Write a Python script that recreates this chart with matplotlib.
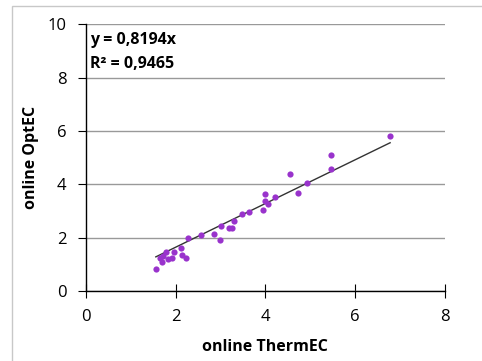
import numpy as np
import matplotlib.pyplot as plt
from matplotlib.patches import Rectangle

# data
therm = [1.56, 1.65, 1.69, 1.72, 1.78, 1.83, 1.91, 1.96, 2.13, 2.15, 2.24, 2.28,
         2.56, 2.85, 2.99, 3.02, 3.18, 3.25, 3.30, 3.47, 3.64, 3.95, 4.00, 4.00,
         4.07, 4.21, 4.55, 4.72, 4.92, 5.46, 5.46, 6.78]
opt = [0.81, 1.22, 1.10, 1.30, 1.47, 1.19, 1.25, 1.47, 1.62, 1.34, 1.25, 2.00,
       2.10, 2.15, 1.91, 2.42, 2.37, 2.37, 2.62, 2.87, 2.95, 3.05, 3.64, 3.37,
       3.27, 3.54, 4.40, 3.67, 4.06, 5.11, 4.57, 5.82]
slope = 0.8194
r2 = 0.9465

plt.rcParams['font.family'] = ['Open Sans', 'DejaVu Sans']

fig = plt.figure(figsize=(4.82, 3.61), dpi=100)
fig.patches.append(Rectangle((12 / 482, -0.1), 1.2, 1 - 6 / 361 + 0.1,
                             transform=fig.transFigure, fill=False,
                             edgecolor='#c8c8c8', linewidth=1))
ax = fig.add_axes([0.178, 0.194, 0.745, 0.739])

ax.scatter(therm, opt, s=20, color='#9933cc', zorder=3, linewidths=0)
xs = np.array([min(therm), max(therm)])
ax.plot(xs, slope * xs, color='#333333', linewidth=1, zorder=2)

ax.set_xlim(0, 8)
ax.set_ylim(0, 10)
ax.set_xticks([0, 2, 4, 6, 8])
ax.set_yticks([0, 2, 4, 6, 8, 10])
ax.yaxis.grid(True, color='#999999', linewidth=1)
ax.set_axisbelow(True)
for s in ['top', 'right']:
    ax.spines[s].set_visible(False)
ax.spines['left'].set_linewidth(1)
ax.spines['bottom'].set_linewidth(1)
ax.tick_params(axis='x', direction='inout', length=10, labelsize=12, pad=8)
ax.tick_params(axis='y', direction='out', length=6, labelsize=12, pad=8)

ax.set_xlabel('online ThermEC', fontsize=11.5, fontweight='bold', labelpad=10)
ax.set_ylabel('online OptEC', fontsize=11.5, fontweight='bold', labelpad=6)

ax.text(0.1, 9.4, 'y = 0,8194x', fontsize=11.5, fontweight='bold', va='center')
ax.text(0.1, 8.5, 'R² = 0,9465', fontsize=11.5, fontweight='bold', va='center')

fig.savefig('out.png', dpi=100)
